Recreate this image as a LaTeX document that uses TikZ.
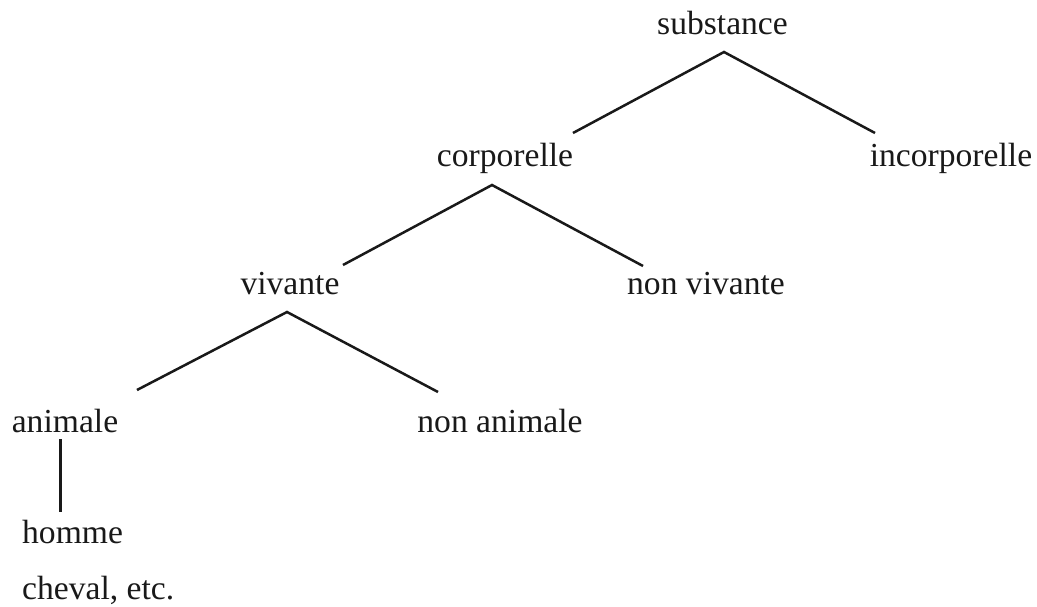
\documentclass[tikz,border=0pt]{standalone}
\usepackage{fontspec}
\setmainfont{Liberation Serif}
\begin{document}
\begin{tikzpicture}[x=1pt,y=-1pt,
  term/.style={anchor=base,inner sep=0pt,font=\fontsize{33.6}{40}\selectfont,text=black!90},
  branch/.style={line width=2.5pt,draw=black!90}]
\useasboundingbox[fill=white] (0,0) rectangle (1037,607);
% labels of the tree, placed by their baselines
\node[term] (substance)    at (722.5,35)  {substance};
\node[term] (corporelle)   at (505,167)   {corporelle};
\node[term] (incorporelle) at (951,167)   {incorporelle};
\node[term] (vivante)      at (290,294)   {vivante};
\node[term] (nonvivante)   at (706,294)   {non vivante};
\node[term] (animale)      at (65,432)    {animale};
\node[term] (nonanimale)   at (500,432)   {non animale};
\node[term,anchor=base west] (homme)  at (22,543) {homme};
\node[term,anchor=base west] (cheval) at (22,599) {cheval, etc.};
% branches
\draw[branch] ([shift={(68,-34)}]corporelle.base) -- ([shift={(1.5,17)}]substance.base)
              -- ([shift={(-76,-34)}]incorporelle.base);
\draw[branch] ([shift={(53,-29)}]vivante.base) -- ([shift={(-13,18)}]corporelle.base)
              -- ([shift={(-63,-28)}]nonvivante.base);
\draw[branch] ([shift={(72,-42)}]animale.base) -- ([shift={(-3,18)}]vivante.base)
              -- ([shift={(-62,-40)}]nonanimale.base);
\draw[branch] ([shift={(-4.5,7)}]animale.base) -- ([shift={(38.5,-31)}]homme.base west);
\end{tikzpicture}
\end{document}
